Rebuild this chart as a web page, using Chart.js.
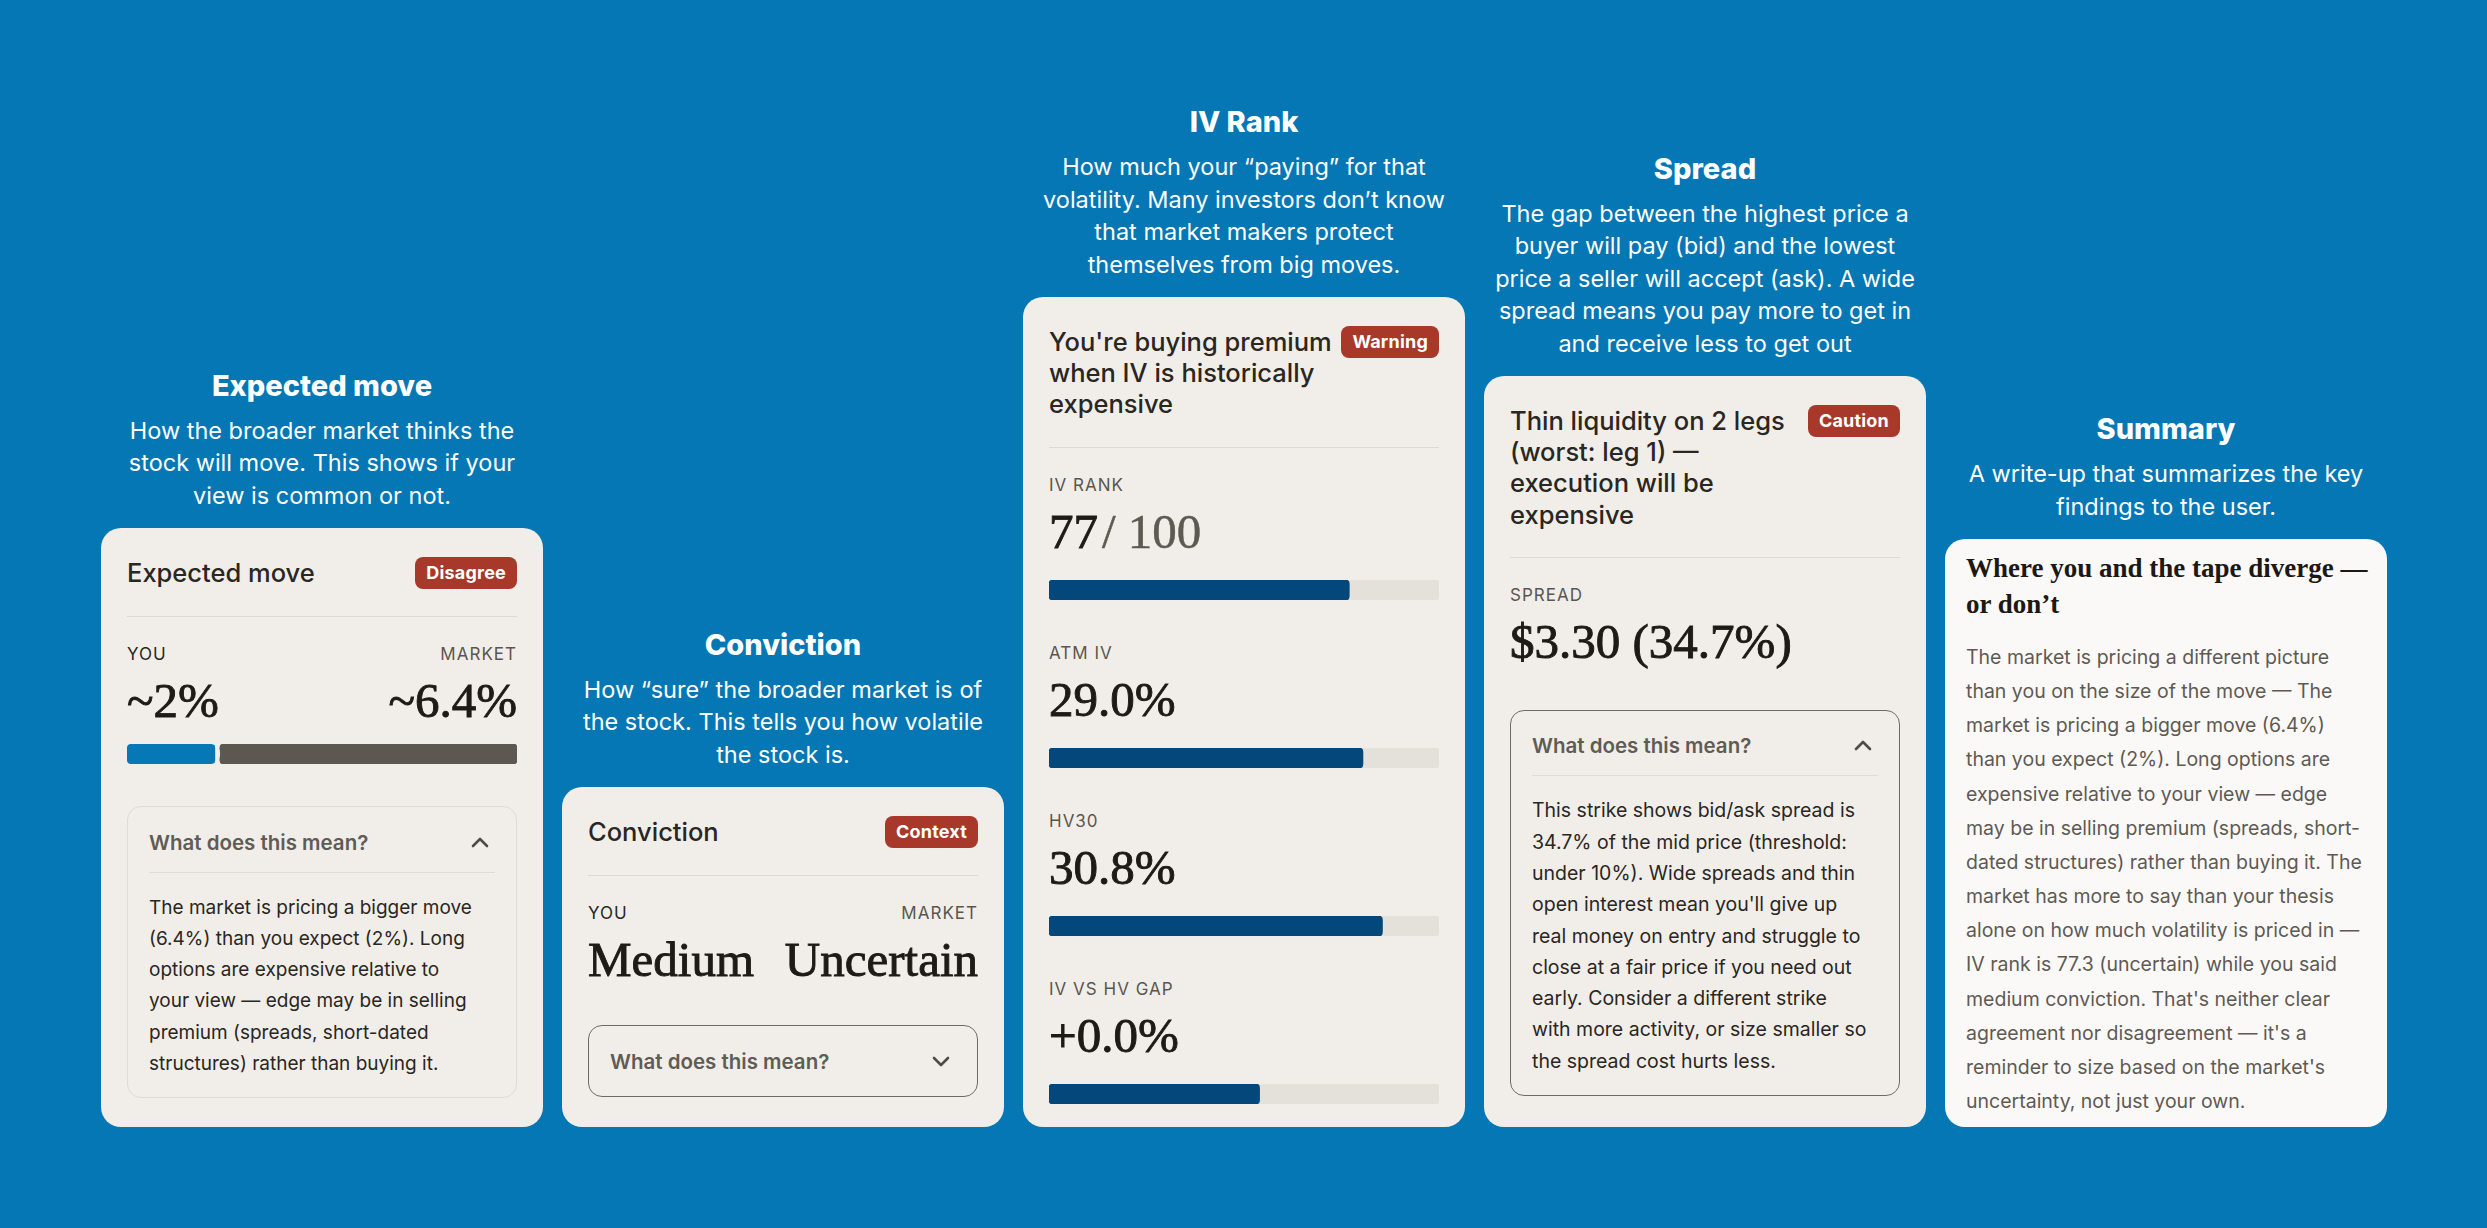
<!DOCTYPE html>
<html>
<head>
<meta charset="utf-8">
<script src="https://cdn.jsdelivr.net/npm/chart.js@4.4.1/dist/chart.umd.min.js"></script>
<style>
    body { margin: 0; width: 2487px; height: 1228px; background: #0477B4; overflow: hidden;
           font-family: Inter, 'Noto Sans', sans-serif; color: #2A2622; }
    .row { position: absolute; left: 101px; bottom: 101px; display: flex; gap: 19px; align-items: flex-end; }
    .col { width: 442px; }
    .sec-title { color: #fff; font-weight: 800; font-size: 29px; line-height: 36px; text-align: center; }
    .sec-desc { color: #fff; font-size: 23.5px; line-height: 32.5px; text-align: center; margin-top: 11px; white-space: nowrap; }
    .card { margin-top: 16px; background: #F1EEE9; border-radius: 20px; box-sizing: border-box; padding: 29px 26px 0; }
    .head { display: flex; justify-content: space-between; align-items: flex-start; }
    .head h3 { margin: 0; font-size: 25.5px; font-weight: 500; line-height: 31.2px; color: #2A2622; white-space: nowrap; }
    .badge { height: 32px; line-height: 32px; padding: 0 11px; border-radius: 8px; background: #A8392A;
             color: #fff; font-size: 18px; font-weight: 700; letter-spacing: 0.2px; }
    .rule { border-top: 1.5px solid #DDD9D2; margin-top: 27px; }
    .pair { display: flex; justify-content: space-between; }
    .lbl { font-size: 17px; line-height: 20px; letter-spacing: 1px; color: #5A564F; margin-top: 27px; }
    .lbl .you { color: #2A2622; }
    .val { font-family: 'Liberation Serif', serif; font-size: 49px; line-height: 56px; color: #1E1A16; margin-top: 9px;
           -webkit-text-stroke: 0.9px currentColor; }
    .val .of { color: #5E5A52; margin-left: 4px; -webkit-text-stroke: 0.5px currentColor; }
    .bar { position: relative; height: 20px; }
    .box { border: 1.5px solid #E0DCD5; border-radius: 14px; padding: 0 21px 18px; }
    .box.dark { border-color: #6F6B64; }
    .box.closed { padding-bottom: 0; }
    .box-head { display: flex; justify-content: space-between; align-items: center; padding: 19.5px 0 14px;
                font-size: 20.5px; font-weight: 600; line-height: 31px; color: #5F5B55; border-bottom: 1.5px solid #E0DCD5; }
    .box.closed .box-head { border-bottom: none; padding-bottom: 19.5px; }
    .box-head svg { margin-right: 6px; }
    .box p { margin: 19px 0 0; font-size: 19.5px; line-height: 31.3px; color: #2A2622; white-space: nowrap; }
    .box p.tight { font-size: 19px; }
    .summary { background: #FAF9F7; padding: 11px 13px 0 21px; }
    .summary h4 { margin: 0; font-family: 'Liberation Serif', serif; font-weight: 700; font-size: 27px; line-height: 36px; color: #1C1814; white-space: nowrap; }
    .summary p { margin: 18px 0 0; font-size: 19.5px; line-height: 34.15px; color: #5E5A53; white-space: nowrap; }
</style>
</head>
<body>
<div class="row">

    <div class="col">
        <div class="sec-title">Expected move</div>
        <div class="sec-desc">How the broader market thinks the<br>stock will move. This shows if your<br>view is common or not.</div>
        <div class="card" style="height:599px">
            <div class="head"><h3>Expected move</h3><span class="badge">Disagree</span></div>
            <div class="rule"></div>
            <div class="pair lbl"><span class="you">YOU</span><span>MARKET</span></div>
            <div class="pair val"><span id="youVal"></span><span id="mktVal"></span></div>
            <div class="bar" style="margin-top:15px"><canvas id="moveChart"></canvas></div>
            <div class="box" style="margin-top:42px">
                <div class="box-head">What does this mean?
                    <svg width="18" height="11" viewBox="0 0 18 11"><polyline points="2,9 9,2 16,9" fill="none" stroke="#4F4B45" stroke-width="2.6" stroke-linecap="round" stroke-linejoin="round"/></svg>
                </div>
                <p class="tight">The market is pricing a bigger move<br>(6.4%) than you expect (2%). Long<br>options are expensive relative to<br>your view — edge may be in selling<br>premium (spreads, short-dated<br>structures) rather than buying it.</p>
            </div>
        </div>
    </div>

    <div class="col">
        <div class="sec-title">Conviction</div>
        <div class="sec-desc">How “sure” the broader market is of<br>the stock. This tells you how volatile<br>the stock is.</div>
        <div class="card" style="height:340px">
            <div class="head"><h3>Conviction</h3><span class="badge">Context</span></div>
            <div class="rule"></div>
            <div class="pair lbl"><span class="you">YOU</span><span>MARKET</span></div>
            <div class="pair val"><span>Medium</span><span>Uncertain</span></div>
            <div class="box dark closed" style="margin-top:37px">
                <div class="box-head">What does this mean?
                    <svg width="18" height="11" viewBox="0 0 18 11"><polyline points="2,2 9,9 16,2" fill="none" stroke="#4F4B45" stroke-width="2.6" stroke-linecap="round" stroke-linejoin="round"/></svg>
                </div>
            </div>
        </div>
    </div>

    <div class="col">
        <div class="sec-title">IV Rank</div>
        <div class="sec-desc">How much your “paying” for that<br>volatility. Many investors don’t know<br>that market makers protect<br>themselves from big moves.</div>
        <div class="card" style="height:830px">
            <div class="head"><h3>You're buying premium<br>when IV is historically<br>expensive</h3><span class="badge">Warning</span></div>
            <div class="rule"></div>
            <div id="ivMetrics"></div>
        </div>
    </div>

    <div class="col">
        <div class="sec-title">Spread</div>
        <div class="sec-desc">The gap between the highest price a<br>buyer will pay (bid) and the lowest<br>price a seller will accept (ask). A wide<br>spread means you pay more to get in<br>and receive less to get out</div>
        <div class="card" style="height:751px">
            <div class="head"><h3>Thin liquidity on 2 legs<br>(worst: leg 1) —<br>execution will be<br>expensive</h3><span class="badge">Caution</span></div>
            <div class="rule"></div>
            <div class="lbl">SPREAD</div>
            <div class="val">$3.30 (34.7%)</div>
            <div class="box dark" style="margin-top:40px">
                <div class="box-head">What does this mean?
                    <svg width="18" height="11" viewBox="0 0 18 11"><polyline points="2,9 9,2 16,9" fill="none" stroke="#4F4B45" stroke-width="2.6" stroke-linecap="round" stroke-linejoin="round"/></svg>
                </div>
                <p>This strike shows bid/ask spread is<br>34.7% of the mid price (threshold:<br>under 10%). Wide spreads and thin<br>open interest mean you'll give up<br>real money on entry and struggle to<br>close at a fair price if you need out<br>early. Consider a different strike<br>with more activity, or size smaller so<br>the spread cost hurts less.</p>
            </div>
        </div>
    </div>

    <div class="col">
        <div class="sec-title">Summary</div>
        <div class="sec-desc">A write-up that summarizes the key<br>findings to the user.</div>
        <div class="card summary" style="height:588px">
            <h4>Where you and the tape diverge —<br>or don’t</h4>
            <p>The market is pricing a different picture<br>than you on the size of the move — The<br>market is pricing a bigger move (6.4%)<br>than you expect (2%). Long options are<br>expensive relative to your view — edge<br>may be in selling premium (spreads, short-<br>dated structures) rather than buying it. The<br>market has more to say than your thesis<br>alone on how much volatility is priced in —<br>IV rank is 77.3 (uncertain) while you said<br>medium conviction. That's neither clear<br>agreement nor disagreement — it's a<br>reminder to size based on the market's<br>uncertainty, not just your own.</p>
        </div>
    </div>

</div>

<script>
// expected move, in %
const moveLabels = ['You', 'Market'];
const moveValues = [2, 6.4];

// IV card rows
const ivLabels = ['IV RANK', 'ATM IV', 'HV30', 'IV VS HV GAP'];
const ivText = ['77', '29.0%', '30.8%', '+0.0%'];
const ivOf = ['/ 100', '', '', ''];
const ivFill = [77, 80.5, 85.5, 54];   // filled share of the track, %
const ivTrackMax = 100;

const CARD_BG = '#F1EEE9';
const NAVY = '#03477B';
const TRACK = '#E4E0DA';

const baseOptions = (max, stacked) => ({
    indexAxis: 'y',
    responsive: true,
    maintainAspectRatio: false,
    animation: false,
    events: [],
    layout: { padding: 0 },
    plugins: { legend: { display: false }, tooltip: { enabled: false } },
    datasets: { bar: { barPercentage: 1, categoryPercentage: 1 } },
    scales: {
        x: { display: false, min: 0, max, stacked },
        y: { display: false, stacked },
    },
});

document.getElementById('youVal').textContent = '~' + moveValues[0] + '%';
document.getElementById('mktVal').textContent = '~' + moveValues[1] + '%';

new Chart(document.getElementById('moveChart'), {
    type: 'bar',
    data: {
        labels: [''],
        datasets: [
            {
                label: moveLabels[0],
                data: [moveValues[0]],
                backgroundColor: '#0678B6',
                borderColor: CARD_BG,
                borderWidth: { top: 0, right: 5, bottom: 0, left: 0 },
                borderRadius: { topLeft: 4, bottomLeft: 4, topRight: 9, bottomRight: 9 },
                borderSkipped: false,
            },
            {
                label: moveLabels[1],
                data: [moveValues[1]],
                backgroundColor: '#5C5750',
                borderRadius: 4,
                borderSkipped: false,
            },
        ],
    },
    options: baseOptions(moveValues[0] + moveValues[1], true),
});

// ── IV rank rows ──
const ivWrap = document.getElementById('ivMetrics');
ivLabels.forEach((label, i) => {
    const block = document.createElement('div');
    block.innerHTML =
        '<div class="lbl" style="margin-top:' + (i === 0 ? 27 : 43) + 'px">' + label + '</div>' +
        '<div class="val">' + ivText[i] + (ivOf[i] ? '<span class="of">' + ivOf[i] + '</span>' : '') + '</div>' +
        '<div class="bar" style="margin-top:20px"><canvas></canvas></div>';
    ivWrap.appendChild(block);

    new Chart(block.querySelector('canvas'), {
        type: 'bar',
        data: {
            labels: [label],
            datasets: [
                { data: [ivFill[i]], backgroundColor: NAVY, borderRadius: 4, borderSkipped: false, grouped: false, order: 0 },
                { data: [ivTrackMax], backgroundColor: TRACK, borderRadius: 4, borderSkipped: false, grouped: false, order: 1 },
            ],
        },
        options: baseOptions(ivTrackMax, false),
    });
});
</script>
</body>
</html>
